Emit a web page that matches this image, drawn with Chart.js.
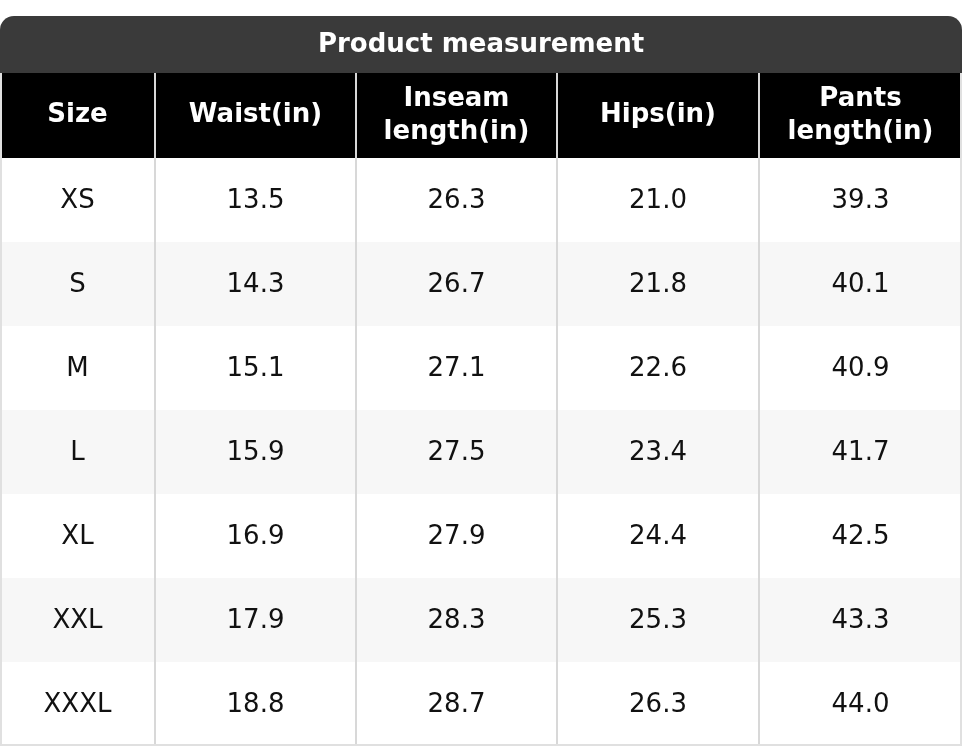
<!DOCTYPE html>
<html><head><meta charset="utf-8">
<script src="https://cdn.jsdelivr.net/npm/chart.js@4"></script>
<style>html,body{margin:0;padding:0;background:#fff}#w{width:962px;height:748px}</style>
</head><body><div id="w"><canvas id="c"></canvas></div>
<script>
const title = "Product measurement";
const headers = [["Size"],["Waist(in)"],["Inseam","length(in)"],["Hips(in)"],["Pants","length(in)"]];
const sizes = ["XS","S","M","L","XL","XXL","XXXL"];
const waist = ["13.5","14.3","15.1","15.9","16.9","17.9","18.8"];
const inseam = ["26.3","26.7","27.1","27.5","27.9","28.3","28.7"];
const hips = ["21.0","21.8","22.6","23.4","24.4","25.3","26.3"];
const pants = ["39.3","40.1","40.9","41.7","42.5","43.3","44.0"];
const columns = [sizes, waist, inseam, hips, pants];
const colWeights = [155,201,201,202,203];
const colEdges = colWeights.reduce((a,w)=>{a.push(a[a.length-1]+w);return a;},[0]);
const rowEdges = [16,73,158]; for(let i=1;i<=sizes.length;i++) rowEdges.push(158+84*i);

const tablePlugin = {
  id:'table',
  afterDraw(chart){
    const ctx=chart.ctx, X=chart.scales.x, Y=chart.scales.y;
    const px=v=>X.getPixelForValue(v), py=v=>Y.getPixelForValue(v);
    const L=px(0), R=px(colEdges[colEdges.length-1]);
    ctx.save();
    // rows background
    for(let r=0;r<sizes.length;r++){
      ctx.fillStyle = r%2? '#f7f7f7':'#ffffff';
      ctx.fillRect(L,py(rowEdges[r+2]),R-L,py(rowEdges[r+3])-py(rowEdges[r+2]));
    }
    // title with rounded top
    const t0=py(rowEdges[0]), t1=py(rowEdges[1]), rad=14;
    ctx.fillStyle='#3a3a3a';
    ctx.beginPath();
    ctx.moveTo(L,t1);ctx.lineTo(L,t0+rad);ctx.arcTo(L,t0,L+rad,t0,rad);
    ctx.lineTo(R-rad,t0);ctx.arcTo(R,t0,R,t0+rad,rad);ctx.lineTo(R,t1);ctx.closePath();ctx.fill();
    ctx.fillStyle='#000';
    ctx.fillRect(L,t1,R-L,py(rowEdges[2])-t1);
    // vertical lines
    ctx.strokeStyle='#d8d8d8';ctx.lineWidth=2;
    for(let c=1;c<colEdges.length-1;c++){
      ctx.beginPath();ctx.moveTo(px(colEdges[c]),t1);ctx.lineTo(px(colEdges[c]),py(rowEdges[rowEdges.length-1]));ctx.stroke();
    }
    ctx.strokeStyle='#e0e0e0';
    ctx.beginPath();ctx.moveTo(L+1,t1);ctx.lineTo(L+1,py(rowEdges[rowEdges.length-1])-1);
    ctx.lineTo(R-1,py(rowEdges[rowEdges.length-1])-1);ctx.lineTo(R-1,t1);ctx.stroke();
    ctx.textAlign='center';ctx.textBaseline='middle';
    ctx.fillStyle='#fff';ctx.font='bold 26px "DejaVu Sans"';
    ctx.fillText(title,(L+R)/2,(t0+t1)/2+1);
    const h0=t1,h1=py(rowEdges[2]);
    headers.forEach((h,c)=>{
      const cx=(px(colEdges[c])+px(colEdges[c+1]))/2;
      const cy=(h0+h1)/2;
      h.forEach((line,i)=>ctx.fillText(line,cx,cy+(i-(h.length-1)/2)*33));
    });
    ctx.fillStyle='#111';ctx.font='26px "DejaVu Sans"';
    columns.forEach((col,c)=>{
      const cx=(px(colEdges[c])+px(colEdges[c+1]))/2;
      col.forEach((v,r)=>ctx.fillText(v,cx,(py(rowEdges[r+2])+py(rowEdges[r+3]))/2+1));
    });
    ctx.restore();
  }
};
new Chart(document.getElementById('c'),{
  type:'scatter',
  data:{datasets:[{data:[]}]},
  options:{responsive:true,maintainAspectRatio:false,animation:false,
    layout:{padding:0},
    plugins:{legend:{display:false},tooltip:{enabled:false}},
    scales:{x:{type:'linear',min:0,max:colEdges[colEdges.length-1],display:false},
            y:{type:'linear',min:0,max:748,reverse:true,display:false}}},
  plugins:[tablePlugin]
});
</script></body></html>
